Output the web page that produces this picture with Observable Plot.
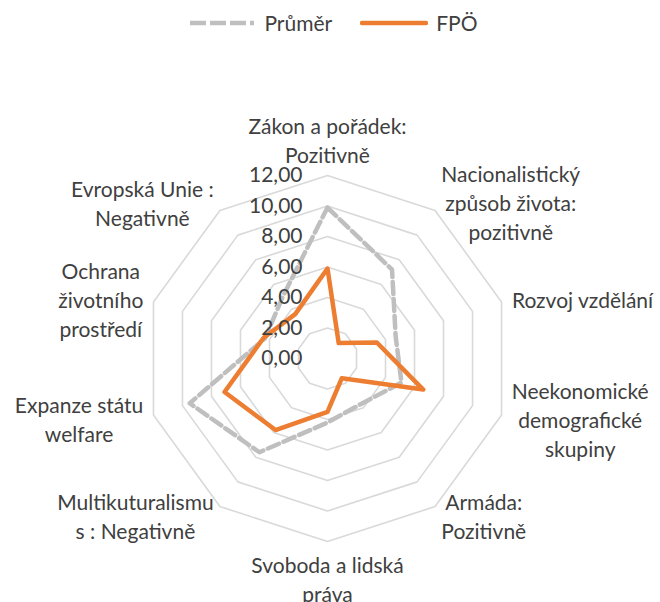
<!DOCTYPE html>
<html><head><meta charset="utf-8">
<script src="https://cdn.jsdelivr.net/npm/d3@7"></script>
<script src="https://cdn.jsdelivr.net/npm/@observablehq/plot@0.6"></script>
<style>
body{margin:0;background:#fff;font-family:Lato,sans-serif;}
#legend{height:45px;display:flex;align-items:center;justify-content:center;font-size:21px;color:#404040;padding-left:6px;box-sizing:border-box;}
#legend .item{display:flex;align-items:center;margin:0 14px;}
#legend svg{margin-right:8px;}
</style></head><body>
<div id="legend"></div>
<div id="chart"></div>
<script>
const categories = [
  "Zákon a pořádek:\nPozitivně",
  "Nacionalistický\nzpůsob života:\npozitivně",
  "Rozvoj vzdělání",
  "Neekonomické\ndemografické\nskupiny",
  "Armáda:\nPozitivně",
  "Svoboda a lidská\npráva",
  "Multikuturalismu\ns : Negativně",
  "Expanze státu\nwelfare",
  "Ochrana\nživotního\nprostředí",
  "Evropská Unie :\nNegativně"
];
const prumer = [9.9, 7.2, 4.7, 5.1, 3.7, 4.2, 7.6, 9.5, 4.3, 5.0];
const fpo = [5.9, 1.25, 3.4, 6.6, 1.6, 3.5, 5.8, 7.1, 4.4, 3.6];
const ringTicks = [0, 2, 4, 6, 8, 10, 12];
const tickLabels = ["0,00", "2,00", "4,00", "6,00", "8,00", "10,00", "12,00"];
const seriesNames = ["Průměr", "FPÖ"];
const colors = {"Průměr": "#bfbfbf", "FPÖ": "#ed7d31"};

const W = 660, H = 557, cx = 327, cy = 313, R = 183, maxV = 12;
const unit = R / maxV;
const n = categories.length;
const ang = i => i * 2 * Math.PI / n;

// legend
const leg = document.getElementById("legend");
seriesNames.forEach(name => {
  const it = document.createElement("div");
  it.className = "item";
  const dash = name === "Průměr" ? 'stroke-dasharray="16,4"' : 'stroke-linecap="round"';
  it.innerHTML = `<svg width="68" height="10"><line x1="2" x2="66" y1="5" y2="5" stroke="${colors[name]}" stroke-width="4.5" ${dash}/></svg><span>${name}</span>`;
  leg.appendChild(it);
});

const pts = (vals, name) => vals.map((v, i) => ({name, x: v * Math.sin(ang(i)), y: v * Math.cos(ang(i))}));
const rings = ringTicks.filter(t => t > 0).flatMap(t => categories.map((c, i) => ({t, x: t * Math.sin(ang(i)), y: t * Math.cos(ang(i))})));

// label placement
const fs = 21, lh = 1.38;
const ctx = document.createElement("canvas").getContext("2d");
ctx.font = `${fs}px Lato`;
const labels = categories.map((c, i) => {
  const a = ang(i), s = Math.sin(a), co = Math.cos(a);
  const lines = c.split("\n");
  const w = Math.max(...lines.map(l => ctx.measureText(l).width));
  const h = lines.length * lh * fs;
  const vertical = Math.abs(s) < 0.1;
  const rl = vertical ? 12.5 : 12.7;
  let px = rl * s, py = rl * co;
  if (s > 0.1) px += (w / 2) / unit;
  else if (s < -0.1) px -= (w / 2) / unit;
  if (vertical) py += Math.sign(co) * (h / 2) / unit;
  return {text: c, x: px, y: py};
});

const chart = Plot.plot({
  width: W, height: H, margin: 0,
  x: {domain: [-maxV, maxV], range: [cx - R, cx + R], axis: null},
  y: {domain: [-maxV, maxV], range: [cy + R, cy - R], axis: null},
  style: {fontFamily: "Lato, sans-serif", background: "#fff"},
  marks: [
    Plot.line(rings, {x: "x", y: "y", z: "t", curve: "linear-closed", stroke: "#d9d9d9", strokeWidth: 1.6}),
    Plot.line(pts(prumer, "Průměr"), {x: "x", y: "y", curve: "linear-closed", stroke: colors["Průměr"], strokeWidth: 4.5, strokeDasharray: "12,5", strokeLinejoin: "round"}),
    Plot.line(pts(fpo, "FPÖ"), {x: "x", y: "y", curve: "linear-closed", stroke: colors["FPÖ"], strokeWidth: 4.5, strokeLinejoin: "round"}),
    Plot.text(ringTicks, {x: 0, y: d => d, text: (d, i) => tickLabels[i], textAnchor: "end", dx: -25, fontSize: fs, fill: "#404040"}),
    Plot.text(labels, {x: "x", y: "y", text: "text", textAnchor: "middle", lineAnchor: "middle", lineHeight: lh, fontSize: fs, fill: "#404040"})
  ]
});
document.getElementById("chart").appendChild(chart);
</script>
</body></html>
